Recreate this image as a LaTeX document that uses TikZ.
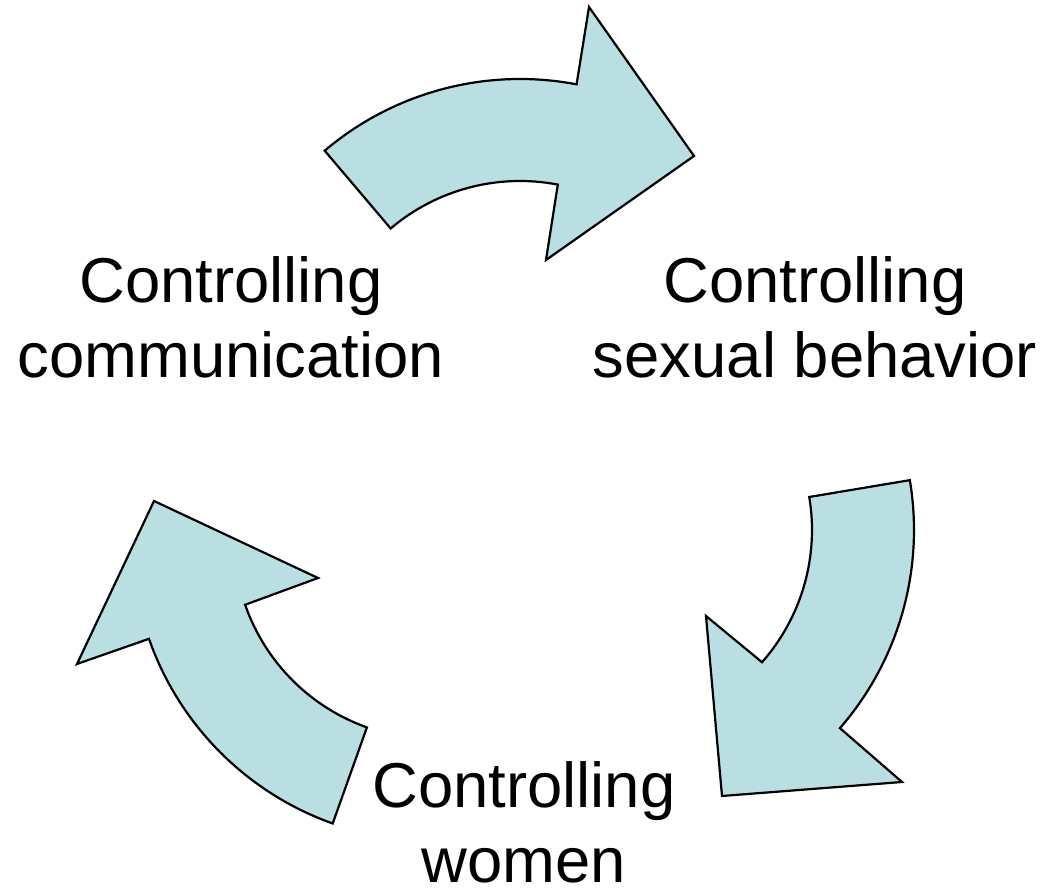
\documentclass[tikz,border=0pt]{standalone}
\usepackage{fontspec}
\setmainfont{Liberation Sans}
\usetikzlibrary{calc}

\definecolor{bleuclair}{RGB}{185,223,227}
\tikzset{
    fleche/.style={draw=black, line width=1.1pt, fill=bleuclair, line join=miter},
    etiquette/.style={align=center, font=\fontsize{31.7}{37.5}\selectfont, inner sep=0pt}
}

\begin{document}
\begin{tikzpicture}[x=0.5pt, y=0.5pt]
    \useasboundingbox (0,0) rectangle (1045,889);

    % centres des arcs
    \coordinate (ctop) at (520,508);
    \coordinate (cright) at (612,359);
    \coordinate (cleft) at (434,350);

    % fleche du haut
    \draw[fleche] ($(ctop)+(130.3:302)$) arc[start angle=130.3, end angle=79.2, radius=302]
        -- (589,882) -- (694,733) -- (546,629) -- ($(ctop)+(79.1:200)$)
        arc[start angle=79.1, end angle=130.3, radius=200] -- cycle;

    % fleche de droite
    \draw[fleche] ($(cright)+(9.5:200)$) -- ($(cright)+(9.5:302)$)
        arc[start angle=9.5, end angle=-41, radius=302]
        -- (902,107) -- (722,93) -- (706,273) -- ($(cright)+(-41.4:200)$)
        arc[start angle=-41.4, end angle=9.5, radius=200] -- cycle;

    % fleche de gauche
    \draw[fleche] ($(cleft)+(250.4:200)$) -- ($(cleft)+(250.4:302)$)
        arc[start angle=250.4, end angle=199.3, radius=302]
        -- (77,225) -- (154,388) -- (318,311) -- ($(cleft)+(199.2:200)$)
        arc[start angle=199.2, end angle=250.4, radius=200] -- cycle;

    % textes
    \node[etiquette, anchor=base] (comm) at (231,511) {Controlling\\communication};
    \node[etiquette, anchor=base] (sexual) at (815,511) {Controlling\\sexual behavior};
    \node[etiquette, anchor=base] (women) at (524,6) {Controlling\\women};

\end{tikzpicture}
\end{document}
